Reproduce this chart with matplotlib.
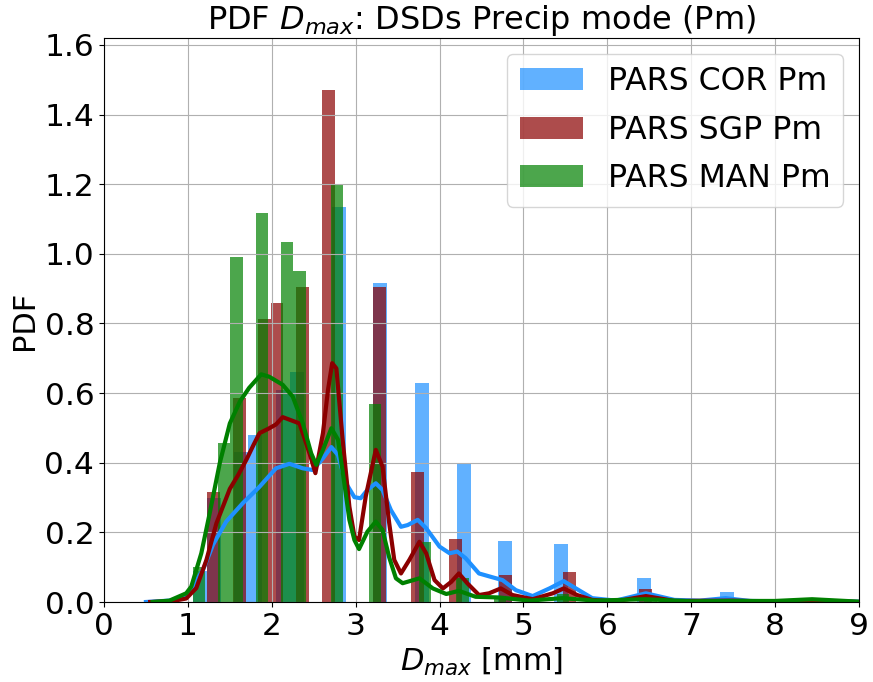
import numpy as np
import matplotlib
matplotlib.use("Agg")
import matplotlib.pyplot as plt

# histogram bins (left edge, density)
cor_left = [1.058, 1.224, 1.555, 1.72, 2.052, 2.217, 2.714, 3.21, 3.707, 4.204, 4.70, 5.363, 6.355, 7.348]
cor_pdf = [0.09, 0.30, 0.43, 0.48, 0.61, 0.66, 1.135, 0.915, 0.63, 0.395, 0.175, 0.168, 0.068, 0.028]

sgp_left = [1.226, 1.54, 1.834, 1.986, 2.29, 2.60, 3.21, 3.66, 4.11, 4.71, 5.47, 6.38]
sgp_pdf = [0.315, 0.585, 0.814, 0.858, 0.904, 1.472, 0.904, 0.372, 0.182, 0.077, 0.085, 0.036]

man_left = [1.06, 1.358, 1.507, 1.807, 2.106, 2.256, 2.704, 3.153, 3.751, 4.20, 4.648, 5.396, 6.442, 8.386]
man_pdf = [0.10, 0.458, 0.992, 1.118, 1.033, 0.952, 1.201, 0.568, 0.172, 0.07, 0.017, 0.023, 0.008, 0.011]

# kde curves
cor_kx = [0.50, 0.78, 0.98, 1.18, 1.30, 1.457, 1.655, 1.85, 2.05, 2.21, 2.37, 2.49, 2.61, 2.71, 2.79,
          2.885, 2.985, 3.06, 3.14, 3.24, 3.32, 3.42, 3.54, 3.62, 3.74, 3.84, 4.0, 4.12, 4.21, 4.31,
          4.47, 4.63, 4.75, 4.91, 5.11, 5.31, 5.48, 5.66, 5.82, 6.1, 6.46, 6.8, 7.1, 7.41, 7.7, 8.0,
          8.45, 9.0]
cor_ky = [0.0, 0.004, 0.015, 0.092, 0.165, 0.231, 0.284, 0.33, 0.384, 0.397, 0.384, 0.379, 0.413,
          0.445, 0.422, 0.341, 0.301, 0.298, 0.322, 0.341, 0.322, 0.264, 0.216, 0.221, 0.236, 0.212,
          0.159, 0.14, 0.145, 0.126, 0.082, 0.071, 0.063, 0.034, 0.017, 0.039, 0.06, 0.034, 0.011,
          0.004, 0.025, 0.006, 0.004, 0.011, 0.003, 0.002, 0.004, 0.001]

sgp_kx = [0.55, 0.80, 0.98, 1.10, 1.22, 1.34, 1.50, 1.60, 1.70, 1.78, 1.854, 1.97, 2.05, 2.13, 2.33,
          2.45, 2.52, 2.61, 2.67, 2.72, 2.77, 2.845, 2.925, 2.985, 3.04, 3.12, 3.24, 3.32, 3.40, 3.46,
          3.54, 3.64, 3.76, 3.84, 3.94, 4.04, 4.14, 4.23, 4.33, 4.47, 4.59, 4.73, 4.87, 5.11, 5.35,
          5.48, 5.64, 5.82, 6.1, 6.46, 6.8, 7.5, 8.0, 8.5, 9.0]
sgp_ky = [0.0, 0.002, 0.01, 0.04, 0.12, 0.226, 0.325, 0.365, 0.41, 0.45, 0.485, 0.499, 0.51, 0.531,
          0.513, 0.427, 0.37, 0.485, 0.609, 0.686, 0.671, 0.466, 0.274, 0.188, 0.178, 0.303, 0.437,
          0.389, 0.226, 0.121, 0.082, 0.121, 0.173, 0.14, 0.063, 0.039, 0.058, 0.082, 0.054, 0.02,
          0.025, 0.039, 0.02, 0.008, 0.025, 0.039, 0.02, 0.006, 0.002, 0.017, 0.003, 0.004, 0.001,
          0.003, 0.0]

man_kx = [0.58, 0.78, 0.98, 1.04, 1.16, 1.26, 1.38, 1.50, 1.62, 1.73, 1.874, 1.97, 2.13, 2.25, 2.37,
          2.47, 2.53, 2.61, 2.71, 2.79, 2.865, 2.925, 2.985, 3.04, 3.14, 3.24, 3.32, 3.40, 3.48, 3.56,
          3.76, 3.92, 4.08, 4.23, 4.43, 4.71, 5.07, 5.46, 5.86, 6.45, 7.0, 7.5, 8.0, 8.44, 9.0]
man_ky = [0.0, 0.004, 0.025, 0.044, 0.14, 0.255, 0.399, 0.513, 0.576, 0.615, 0.654, 0.647, 0.624,
          0.59, 0.513, 0.427, 0.394, 0.437, 0.499, 0.466, 0.341, 0.236, 0.178, 0.152, 0.202, 0.231,
          0.207, 0.128, 0.068, 0.054, 0.068, 0.039, 0.023, 0.032, 0.015, 0.013, 0.004, 0.011, 0.004,
          0.008, 0.002, 0.003, 0.003, 0.008, 0.001]

labels = ['PARS COR Pm', 'PARS SGP Pm', 'PARS MAN Pm']

fig = plt.figure(figsize=(8.73, 6.82), dpi=100)
ax = fig.add_axes([104/873, 80/682, 755/873, 564/682])
ax.set_axisbelow('line')

series = [
    (cor_left, cor_pdf, cor_kx, cor_ky, 0.1655, 'dodgerblue'),
    (sgp_left, sgp_pdf, sgp_kx, sgp_ky, 0.152, 'darkred'),
    (man_left, man_pdf, man_kx, man_ky, 0.1495, 'green'),
]
for (left, pdf, kx, ky, w, c), lab in zip(series, labels):
    ax.bar(left, pdf, width=w, align='edge', color=c, alpha=0.7, label=lab, zorder=1)
    ax.plot(kx, ky, color=c, lw=3, zorder=2)

ax.set_xlim(0, 9)
ax.set_ylim(0, 1.62)
ax.set_xticks(np.arange(0, 10, 1))
ax.set_yticks(np.arange(0, 1.61, 0.2))
ax.grid(True)
ax.tick_params(labelsize=22.5)
ax.set_xlabel('$D_{max}$ [mm]', fontsize=22)
ax.set_ylabel('PDF', fontsize=22)
ax.set_title('PDF $D_{max}$: DSDs Precip mode (Pm)', fontsize=23)
ax.legend(loc='upper right', fontsize=22.7, labelspacing=0.55)

plt.savefig('out.png', dpi=100)
